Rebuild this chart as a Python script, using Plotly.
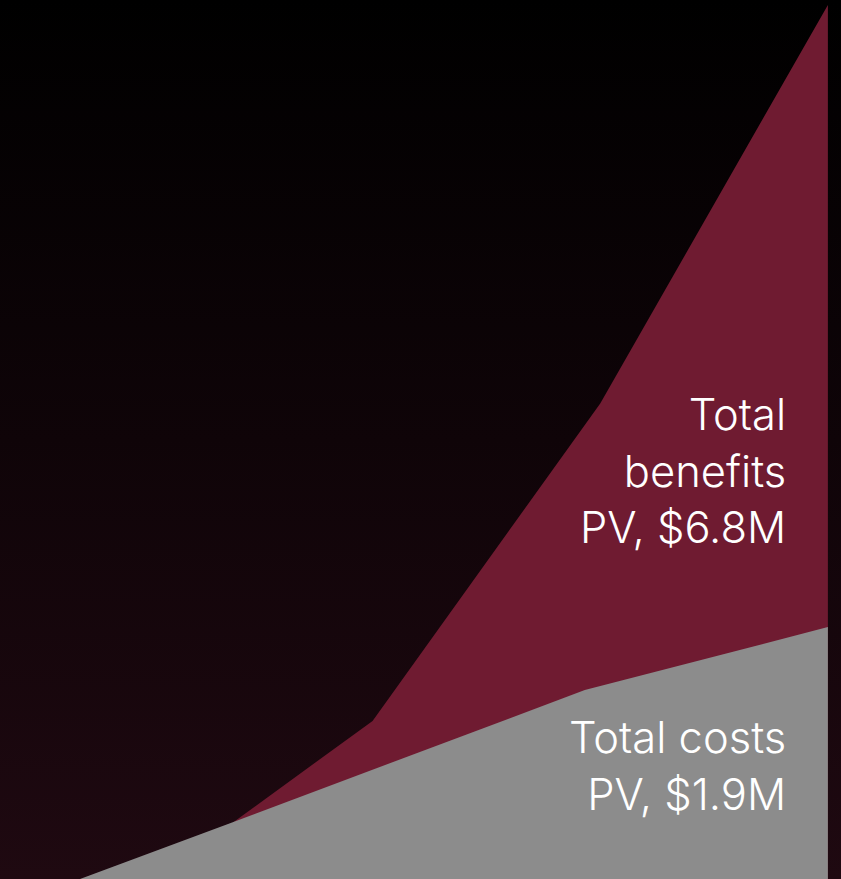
import plotly.graph_objects as go

# Data (x in months, y in $M, cumulative PV)
cost_months = [3.48, 10.09, 25.43, 36.0]
cost_values = [0.0, 0.44, 1.47, 1.96]
benefit_months = [10.13, 16.2, 26.1, 36.0]
benefit_values = [0.44, 1.23, 3.70, 6.80]
benefit_label = "Total<br>benefits<br>PV, $6.8M"
cost_label = "Total costs<br>PV, $1.9M"

X_MAX = 36.57
Y_MAX = 6.839

fig = go.Figure()

# background gradient
fig.add_trace(go.Scatter(
    x=[0, X_MAX, X_MAX, 0, 0], y=[0, 0, Y_MAX, Y_MAX, 0],
    mode="lines", line=dict(width=0), fill="toself",
    fillgradient=dict(type="vertical",
                      colorscale=[[0, "#1f0911"], [0.5, "#0f0408"], [1, "#000000"]]),
    hoverinfo="skip", showlegend=False))

fig.add_trace(go.Scatter(
    x=benefit_months, y=benefit_values, mode="lines",
    line=dict(width=0, color="#6f1b31"), fill="tozeroy", fillcolor="#6f1b31",
    hoverinfo="skip", showlegend=False))

fig.add_trace(go.Scatter(
    x=cost_months, y=cost_values, mode="lines",
    line=dict(width=0, color="#8c8c8c"), fill="tozeroy", fillcolor="#8c8c8c",
    hoverinfo="skip", showlegend=False))

font = dict(family="Inter, Roboto, sans-serif", size=43.5, color="#ffffff", weight=300)
fig.add_annotation(x=34.27, y=3.18, xref="x", yref="y", text=benefit_label,
                   showarrow=False, xanchor="right", yanchor="middle", align="right",
                   font=font)
fig.add_annotation(x=34.27, y=0.88, xref="x", yref="y", text=cost_label,
                   showarrow=False, xanchor="right", yanchor="middle", align="right",
                   font=font)

fig.update_layout(
    width=841, height=879,
    margin=dict(l=0, r=0, t=0, b=0),
    paper_bgcolor="#000000", plot_bgcolor="#000000",
    xaxis=dict(range=[0, X_MAX], visible=False, fixedrange=True),
    yaxis=dict(range=[0, Y_MAX], visible=False, fixedrange=True),
    showlegend=False,
)

fig.write_html(
    "out.html",
    config={"displayModeBar": False},
    post_script="document.body.style.margin='0';document.body.style.background='#000';",
)
